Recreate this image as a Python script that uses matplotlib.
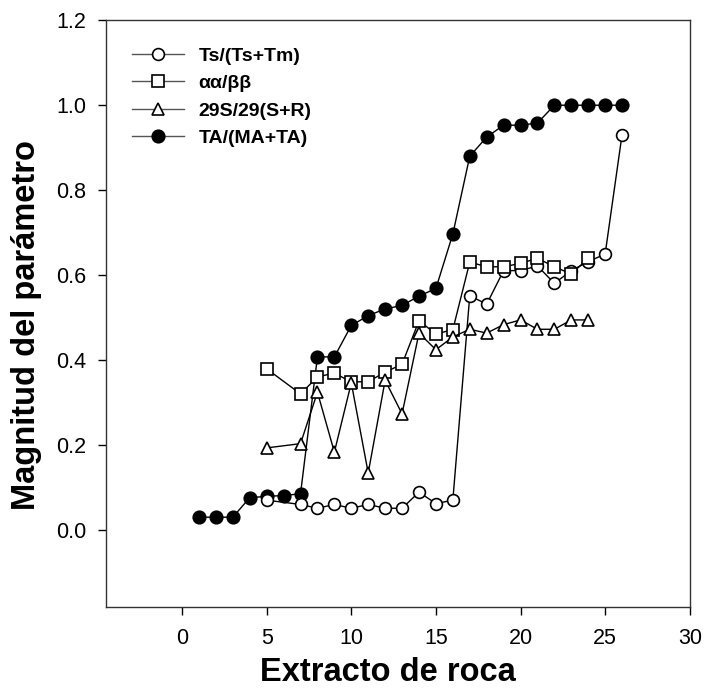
import matplotlib
matplotlib.use("Agg")
import matplotlib.pyplot as plt

plt.rcParams['font.family'] = ['Liberation Sans', 'DejaVu Sans']

# Data
x_ts = [5, 7, 8, 9, 10, 11, 12, 13, 14, 15, 16, 17, 18, 19, 20, 21, 22, 23, 24, 25, 26]
ts = [0.071, 0.061, 0.052, 0.061, 0.052, 0.061, 0.052, 0.052, 0.09, 0.063, 0.071,
      0.552, 0.532, 0.611, 0.611, 0.622, 0.581, 0.611, 0.632, 0.65, 0.931]

x_aa = [5, 7, 8, 9, 10, 11, 12, 13, 14, 15, 16, 17, 18, 19, 20, 21, 22, 23, 24]
aa = [0.38, 0.321, 0.361, 0.37, 0.349, 0.35, 0.372, 0.391, 0.493, 0.462, 0.472,
      0.631, 0.62, 0.62, 0.628, 0.64, 0.62, 0.603, 0.64]

x_29 = [5, 7, 8, 9, 10, 11, 12, 13, 14, 15, 16, 17, 18, 19, 20, 21, 22, 23, 24]
s29 = [0.194, 0.204, 0.325, 0.184, 0.347, 0.135, 0.353, 0.274, 0.464, 0.425, 0.455,
       0.473, 0.464, 0.484, 0.495, 0.473, 0.473, 0.495, 0.495]

x_ta = list(range(1, 27))
ta = [0.031, 0.031, 0.031, 0.077, 0.08, 0.082, 0.086, 0.408, 0.408, 0.482, 0.505,
      0.521, 0.529, 0.551, 0.569, 0.697, 0.88, 0.925, 0.953, 0.953, 0.958,
      1.0, 1.0, 1.0, 1.0, 1.0]

labels = ['Ts/(Ts+Tm)', 'αα/ββ', '29S/29(S+R)', 'TA/(MA+TA)']
xticks = [0, 5, 10, 15, 20, 25, 30]
yticks = [0.0, 0.2, 0.4, 0.6, 0.8, 1.0, 1.2]

fig = plt.figure(figsize=(7.06, 6.96), dpi=100)
ax = fig.add_axes([0.150, 0.128, 0.827, 0.843])

ms = 8.5
mew = 1.2
lw = 1.0
ax.plot(x_ts, ts, color='black', lw=lw, marker='o', ms=ms, mfc='white', mec='black', mew=mew, label=labels[0], zorder=3)
ax.plot(x_aa, aa, color='black', lw=lw, marker='s', ms=ms, mfc='white', mec='black', mew=mew, label=labels[1], zorder=3)
ax.plot(x_29, s29, color='black', lw=lw, marker='^', ms=ms + 0.5, mfc='white', mec='black', mew=mew, label=labels[2], zorder=3)
ax.plot(x_ta, ta, color='black', lw=lw, marker='o', ms=ms + 0.5, mfc='black', mec='black', mew=mew, label=labels[3], zorder=2)

ax.set_xlim(-4.5, 30)
ax.set_ylim(-0.18, 1.2)
ax.set_xticks(xticks)
ax.set_yticks(yticks)
ax.set_yticklabels([f'{v:.1f}' for v in yticks])
ax.tick_params(direction='out', length=6, width=1, labelsize=15.5)
ax.tick_params(axis='x', pad=9)
ax.tick_params(axis='y', pad=8)

for s in ax.spines.values():
    s.set_linewidth(1.0)
    s.set_color('#333333')

ax.set_xlabel('Extracto de roca', fontsize=23.5, fontweight='bold', labelpad=6)
ax.xaxis.label.set_x(0.483)
ax.set_ylabel('Magnitud del parámetro', fontsize=23.5, fontweight='bold', labelpad=10)
ax.yaxis.label.set_y(0.48)

leg = ax.legend(loc='upper left', bbox_to_anchor=(0.031, 0.967), frameon=False,
                prop={'size': 14, 'weight': 'bold'}, handlelength=2.67,
                handletextpad=0.75, labelspacing=0.5, borderaxespad=0.0)
for h in leg.get_lines():
    h.set_color('#555555')
    h.set_markeredgecolor('black')

fig.savefig('out.png', dpi=100)
